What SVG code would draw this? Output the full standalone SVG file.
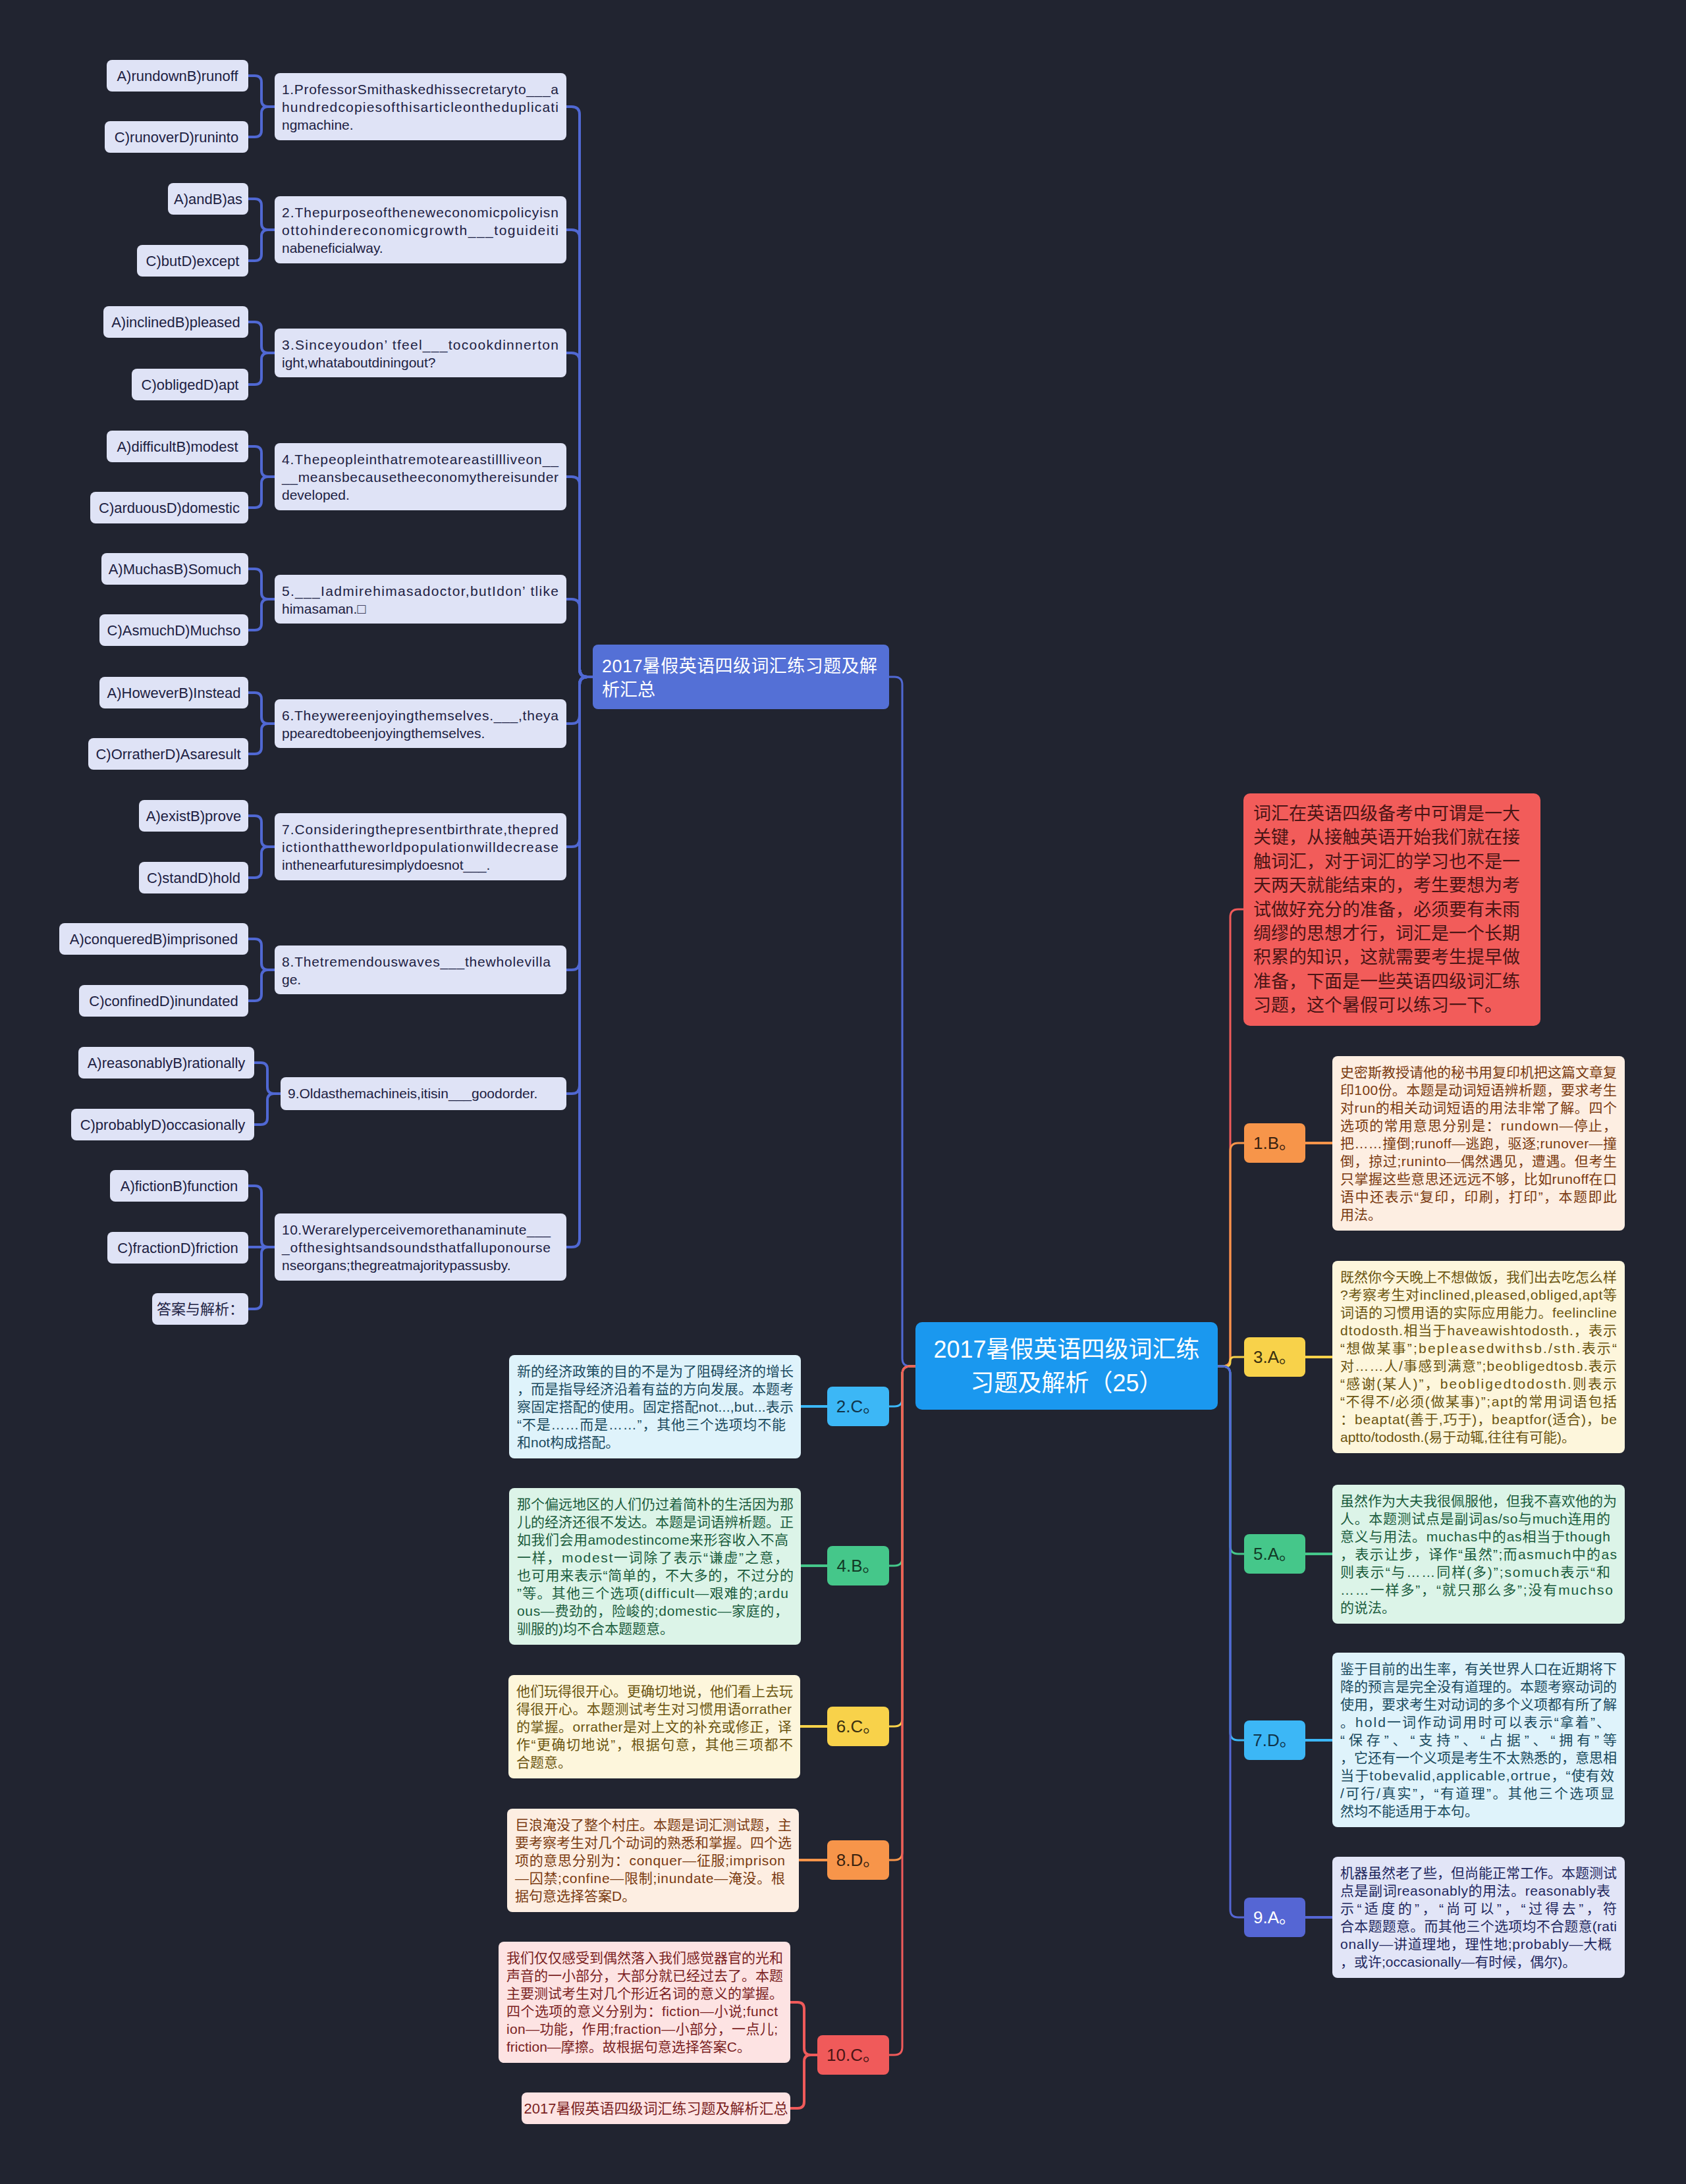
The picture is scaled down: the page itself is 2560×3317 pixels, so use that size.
<svg xmlns="http://www.w3.org/2000/svg" width="2560" height="3317" viewBox="0 0 2560 3317">
<style>
text{font-family:"Liberation Sans","Noto Sans CJK SC",sans-serif}
.ob{fill:#dfe3f6}
.ot{fill:#1d2142;font-size:22px;text-anchor:middle}
.qt{fill:#1d2142;font-size:21px}
.dt{font-size:21px}
.lb{font-size:26px;text-anchor:middle}
.lk{fill:none;stroke-width:4;stroke-linecap:round}
.cl{fill:none;stroke-width:3;stroke-linecap:round}
.bl{stroke:#5068d3}
.rd{stroke:#f05a5a}
.or{stroke:#f7954a}
.ye{stroke:#f8d24a}
.gr{stroke:#45c78a}
.lb2{stroke:#3cb7f6}
.in{stroke:#5566d4}
</style>
<rect x="0" y="0" width="2560" height="3317" fill="#212430"/>

<g id="connectors">
  <!-- center to left branches -->
  <path class="cl bl" d="M1390 2075 H1382 Q1370 2075 1370 2063 V1040 Q1370 1028 1358 1028 H1350"/>
  <path class="cl lb2" d="M1390 2075 H1382 Q1370 2075 1370 2087 V2124 Q1370 2136 1358 2136 H1350"/>
  <path class="cl gr" d="M1390 2075 H1382 Q1370 2075 1370 2087 V2366 Q1370 2378 1358 2378 H1350"/>
  <path class="cl ye" d="M1390 2075 H1382 Q1370 2075 1370 2087 V2610 Q1370 2622 1358 2622 H1350"/>
  <path class="cl or" d="M1390 2075 H1382 Q1370 2075 1370 2087 V2813 Q1370 2825 1358 2825 H1350"/>
  <path class="cl rd" d="M1390 2075 H1382 Q1370 2075 1370 2087 V3109 Q1370 3121 1358 3121 H1350"/>
  <!-- center to right branches -->
  <path class="cl rd" d="M1849 2075 H1856 Q1868 2075 1868 2063 V1393 Q1868 1381 1880 1381 H1889"/>
  <path class="cl or" d="M1849 2075 H1856 Q1868 2075 1868 2063 V1748 Q1868 1736 1880 1736 H1889"/>
  <path class="cl ye" d="M1849 2075 H1862 Q1868 2075 1868 2069 V2067 Q1868 2061 1874 2061 H1889"/>
  <path class="cl gr" d="M1849 2075 H1856 Q1868 2075 1868 2087 V2348 Q1868 2360 1880 2360 H1889"/>
  <path class="cl lb2" d="M1849 2075 H1856 Q1868 2075 1868 2087 V2631 Q1868 2643 1880 2643 H1889"/>
  <path class="cl in" d="M1849 2075 H1856 Q1868 2075 1868 2087 V2900 Q1868 2912 1880 2912 H1889"/>
  <!-- level 2 to descriptions -->
  <path class="lk or" d="M1982 1736 H2023"/>
  <path class="lk ye" d="M1982 2061 H2023"/>
  <path class="lk gr" d="M1982 2360 H2023"/>
  <path class="lk lb2" d="M1982 2643 H2023"/>
  <path class="lk in" d="M1982 2912 H2023"/>
  <path class="lk lb2" d="M1256 2136 H1216"/>
  <path class="lk gr" d="M1256 2378 H1216"/>
  <path class="lk ye" d="M1256 2622 H1215"/>
  <path class="lk or" d="M1256 2825 H1213"/>
  <path class="lk rd" d="M1241 3121 H1231 Q1221 3121 1221 3111 V3051 Q1221 3041 1211 3041 H1200"/>
  <path class="lk rd" d="M1241 3121 H1231 Q1221 3121 1221 3131 V3192 Q1221 3202 1211 3202 H1200"/>
  <!-- summary node to questions -->
  <path class="lk bl" d="M900 1028 H892 Q880 1028 880 1016 V174 Q880 162 868 162 H860"/>
  <path class="lk bl" d="M900 1028 H892 Q880 1028 880 1016 V361 Q880 349 868 349 H860"/>
  <path class="lk bl" d="M900 1028 H892 Q880 1028 880 1016 V548 Q880 536 868 536 H860"/>
  <path class="lk bl" d="M900 1028 H892 Q880 1028 880 1016 V736 Q880 724 868 724 H860"/>
  <path class="lk bl" d="M900 1028 H892 Q880 1028 880 1016 V922 Q880 910 868 910 H860"/>
  <path class="lk bl" d="M900 1028 H892 Q880 1028 880 1040 V1087 Q880 1099 868 1099 H860"/>
  <path class="lk bl" d="M900 1028 H892 Q880 1028 880 1040 V1274 Q880 1286 868 1286 H860"/>
  <path class="lk bl" d="M900 1028 H892 Q880 1028 880 1040 V1461 Q880 1473 868 1473 H860"/>
  <path class="lk bl" d="M900 1028 H892 Q880 1028 880 1040 V1649 Q880 1661 868 1661 H860"/>
  <path class="lk bl" d="M900 1028 H892 Q880 1028 880 1040 V1882 Q880 1894 868 1894 H860"/>
  <!-- questions to options -->
  <path class="lk bl" d="M417 162 H407 Q397 162 397 152 V125 Q397 115 387 115 H377"/>
  <path class="lk bl" d="M417 162 H407 Q397 162 397 172 V198 Q397 208 387 208 H377"/>
  <path class="lk bl" d="M417 349 H407 Q397 349 397 339 V312 Q397 302 387 302 H377"/>
  <path class="lk bl" d="M417 349 H407 Q397 349 397 359 V386 Q397 396 387 396 H377"/>
  <path class="lk bl" d="M417 536 H407 Q397 536 397 526 V499 Q397 489 387 489 H377"/>
  <path class="lk bl" d="M417 536 H407 Q397 536 397 546 V574 Q397 584 387 584 H377"/>
  <path class="lk bl" d="M417 724 H407 Q397 724 397 714 V688 Q397 678 387 678 H377"/>
  <path class="lk bl" d="M417 724 H407 Q397 724 397 734 V761 Q397 771 387 771 H377"/>
  <path class="lk bl" d="M417 910 H407 Q397 910 397 900 V874 Q397 864 387 864 H377"/>
  <path class="lk bl" d="M417 910 H407 Q397 910 397 920 V947 Q397 957 387 957 H377"/>
  <path class="lk bl" d="M417 1099 H407 Q397 1099 397 1089 V1062 Q397 1052 387 1052 H377"/>
  <path class="lk bl" d="M417 1099 H407 Q397 1099 397 1109 V1135 Q397 1145 387 1145 H377"/>
  <path class="lk bl" d="M417 1286 H407 Q397 1286 397 1276 V1249 Q397 1239 387 1239 H377"/>
  <path class="lk bl" d="M417 1286 H407 Q397 1286 397 1296 V1323 Q397 1333 387 1333 H377"/>
  <path class="lk bl" d="M417 1473 H407 Q397 1473 397 1463 V1436 Q397 1426 387 1426 H377"/>
  <path class="lk bl" d="M417 1473 H407 Q397 1473 397 1483 V1510 Q397 1520 387 1520 H377"/>
  <path class="lk bl" d="M426 1661 H416 Q406 1661 406 1651 V1624 Q406 1614 396 1614 H386"/>
  <path class="lk bl" d="M426 1661 H416 Q406 1661 406 1671 V1698 Q406 1708 396 1708 H386"/>
  <path class="lk bl" d="M417 1894 H407 Q397 1894 397 1884 V1811 Q397 1801 387 1801 H377"/>
  <path class="lk bl" d="M417 1894 H377"/>
  <path class="lk bl" d="M417 1894 H407 Q397 1894 397 1904 V1978 Q397 1988 387 1988 H377"/>
</g>

<g id="root">
  <rect x="1390" y="2008" width="459" height="133" rx="10" fill="#1a98ef"/>
  <text x="1619.5" y="2062" font-size="36" fill="#ffffff" text-anchor="middle">2017暑假英语四级词汇练</text>
  <text x="1619.5" y="2113" font-size="36" fill="#ffffff" text-anchor="middle">习题及解析（25）</text>
</g>

<g id="summary">
  <rect x="900" y="979" width="450" height="98" rx="8" fill="#5470d6"/>
  <text x="914" y="1021" font-size="27" fill="#ffffff" textLength="418" lengthAdjust="spacing">2017暑假英语四级词汇练习题及解</text>
  <text x="914" y="1057" font-size="27" fill="#ffffff">析汇总</text>
</g>

<g id="q1">
  <rect class="ob" x="417" y="111" width="443" height="102" rx="8"/>
  <text class="qt" x="428" y="143" textLength="420" lengthAdjust="spacing">1.ProfessorSmithaskedhissecretaryto___a</text>
  <text class="qt" x="428" y="170" textLength="420" lengthAdjust="spacing">hundredcopiesofthisarticleontheduplicati</text>
  <text class="qt" x="428" y="197">ngmachine.</text>
</g>
<g id="q1a"><rect class="ob" x="162" y="91" width="215" height="48" rx="8"/><text class="ot" x="269.5" y="123">A)rundownB)runoff</text></g>
<g id="q1c"><rect class="ob" x="159" y="184" width="218" height="48" rx="8"/><text class="ot" x="268" y="216">C)runoverD)runinto</text></g>

<g id="q2">
  <rect class="ob" x="417" y="298" width="443" height="102" rx="8"/>
  <text class="qt" x="428" y="330" textLength="420" lengthAdjust="spacing">2.Thepurposeoftheneweconomicpolicyisn</text>
  <text class="qt" x="428" y="357" textLength="420" lengthAdjust="spacing">ottohindereconomicgrowth___toguideiti</text>
  <text class="qt" x="428" y="384">nabeneficialway.</text>
</g>
<g id="q2a"><rect class="ob" x="255" y="278" width="122" height="48" rx="8"/><text class="ot" x="316" y="310">A)andB)as</text></g>
<g id="q2c"><rect class="ob" x="208" y="372" width="169" height="48" rx="8"/><text class="ot" x="292.5" y="404">C)butD)except</text></g>

<g id="q3">
  <rect class="ob" x="417" y="499" width="443" height="74" rx="8"/>
  <text class="qt" x="428" y="531" textLength="420" lengthAdjust="spacing">3.Sinceyoudon’ tfeel___tocookdinnerton</text>
  <text class="qt" x="428" y="558">ight,whataboutdiningout?</text>
</g>
<g id="q3a"><rect class="ob" x="157" y="465" width="220" height="48" rx="8"/><text class="ot" x="267" y="497">A)inclinedB)pleased</text></g>
<g id="q3c"><rect class="ob" x="200" y="560" width="177" height="48" rx="8"/><text class="ot" x="288.5" y="592">C)obligedD)apt</text></g>

<g id="q4">
  <rect class="ob" x="417" y="673" width="443" height="102" rx="8"/>
  <text class="qt" x="428" y="705" textLength="420" lengthAdjust="spacing">4.Thepeopleinthatremoteareastillliveon__</text>
  <text class="qt" x="428" y="732" textLength="420" lengthAdjust="spacing">__meansbecausetheeconomythereisunder</text>
  <text class="qt" x="428" y="759">developed.</text>
</g>
<g id="q4a"><rect class="ob" x="162" y="654" width="215" height="48" rx="8"/><text class="ot" x="269.5" y="686">A)difficultB)modest</text></g>
<g id="q4c"><rect class="ob" x="137" y="747" width="240" height="48" rx="8"/><text class="ot" x="257" y="779">C)arduousD)domestic</text></g>

<g id="q5">
  <rect class="ob" x="417" y="873" width="443" height="74" rx="8"/>
  <text class="qt" x="428" y="905" textLength="420" lengthAdjust="spacing">5.___Iadmirehimasadoctor,butIdon’ tlike</text>
  <text class="qt" x="428" y="932">himasaman.□</text>
</g>
<g id="q5a"><rect class="ob" x="154" y="840" width="223" height="48" rx="8"/><text class="ot" x="265.5" y="872">A)MuchasB)Somuch</text></g>
<g id="q5c"><rect class="ob" x="151" y="933" width="226" height="48" rx="8"/><text class="ot" x="264" y="965">C)AsmuchD)Muchso</text></g>

<g id="q6">
  <rect class="ob" x="417" y="1062" width="443" height="74" rx="8"/>
  <text class="qt" x="428" y="1094" textLength="420" lengthAdjust="spacing">6.Theywereenjoyingthemselves.___,theya</text>
  <text class="qt" x="428" y="1121">ppearedtobeenjoyingthemselves.</text>
</g>
<g id="q6a"><rect class="ob" x="151" y="1028" width="226" height="48" rx="8"/><text class="ot" x="264" y="1060">A)HoweverB)Instead</text></g>
<g id="q6c"><rect class="ob" x="134" y="1121" width="243" height="48" rx="8"/><text class="ot" x="255.5" y="1153">C)OrratherD)Asaresult</text></g>

<g id="q7">
  <rect class="ob" x="417" y="1235" width="443" height="102" rx="8"/>
  <text class="qt" x="428" y="1267" textLength="420" lengthAdjust="spacing">7.Consideringthepresentbirthrate,thepred</text>
  <text class="qt" x="428" y="1294" textLength="420" lengthAdjust="spacing">ictionthattheworldpopulationwilldecrease</text>
  <text class="qt" x="428" y="1321">inthenearfuturesimplydoesnot___.</text>
</g>
<g id="q7a"><rect class="ob" x="211" y="1215" width="166" height="48" rx="8"/><text class="ot" x="294" y="1247">A)existB)prove</text></g>
<g id="q7c"><rect class="ob" x="211" y="1309" width="166" height="48" rx="8"/><text class="ot" x="294" y="1341">C)standD)hold</text></g>

<g id="q8">
  <rect class="ob" x="417" y="1436" width="443" height="74" rx="8"/>
  <text class="qt" x="428" y="1468" textLength="408" lengthAdjust="spacing">8.Thetremendouswaves___thewholevilla</text>
  <text class="qt" x="428" y="1495">ge.</text>
</g>
<g id="q8a"><rect class="ob" x="90" y="1402" width="287" height="48" rx="8"/><text class="ot" x="233.5" y="1434">A)conqueredB)imprisoned</text></g>
<g id="q8c"><rect class="ob" x="120" y="1496" width="257" height="48" rx="8"/><text class="ot" x="248.5" y="1528">C)confinedD)inundated</text></g>

<g id="q9">
  <rect class="ob" x="426" y="1636" width="434" height="50" rx="8"/>
  <text class="qt" x="437" y="1668">9.Oldasthemachineis,itisin___goodorder.</text>
</g>
<g id="q9a"><rect class="ob" x="119" y="1590" width="267" height="48" rx="8"/><text class="ot" x="252.5" y="1622">A)reasonablyB)rationally</text></g>
<g id="q9c"><rect class="ob" x="108" y="1684" width="278" height="48" rx="8"/><text class="ot" x="247" y="1716">C)probablyD)occasionally</text></g>

<g id="q10">
  <rect class="ob" x="417" y="1843" width="443" height="102" rx="8"/>
  <text class="qt" x="428" y="1875" textLength="408" lengthAdjust="spacing">10.Werarelyperceivemorethanaminute___</text>
  <text class="qt" x="428" y="1902" textLength="408" lengthAdjust="spacing">_ofthesightsandsoundsthatfalluponourse</text>
  <text class="qt" x="428" y="1929">nseorgans;thegreatmajoritypassusby.</text>
</g>
<g id="q10a"><rect class="ob" x="167" y="1777" width="210" height="48" rx="8"/><text class="ot" x="272" y="1809">A)fictionB)function</text></g>
<g id="q10c"><rect class="ob" x="163" y="1871" width="214" height="48" rx="8"/><text class="ot" x="270" y="1903">C)fractionD)friction</text></g>
<g id="q10ans"><rect class="ob" x="231" y="1964" width="146" height="48" rx="8"/><text class="ot" x="304" y="1996">答案与解析：</text></g>

<g id="intro">
  <rect x="1888" y="1205" width="451" height="353" rx="10" fill="#f25c5a"/>
  <g font-size="27" fill="#4a1515">
    <text x="1903" y="1245" textLength="405" lengthAdjust="spacing">词汇在英语四级备考中可谓是一大</text>
    <text x="1903" y="1281" textLength="405" lengthAdjust="spacing">关键，从接触英语开始我们就在接</text>
    <text x="1903" y="1318" textLength="405" lengthAdjust="spacing">触词汇，对于词汇的学习也不是一</text>
    <text x="1903" y="1354" textLength="405" lengthAdjust="spacing">天两天就能结束的，考生要想为考</text>
    <text x="1903" y="1391" textLength="405" lengthAdjust="spacing">试做好充分的准备，必须要有未雨</text>
    <text x="1903" y="1427" textLength="405" lengthAdjust="spacing">绸缪的思想才行，词汇是一个长期</text>
    <text x="1903" y="1463" textLength="405" lengthAdjust="spacing">积累的知识，这就需要考生提早做</text>
    <text x="1903" y="1500" textLength="405" lengthAdjust="spacing">准备，下面是一些英语四级词汇练</text>
    <text x="1903" y="1536">习题，这个暑假可以练习一下。</text>
  </g>
</g>

<g id="n1b">
  <rect x="1889" y="1706" width="93" height="60" rx="8" fill="#f7954a"/>
  <text class="lb" x="1935.5" y="1745" fill="#3a2210">1.B。</text>
</g>
<g id="d1b">
  <rect x="2023" y="1604" width="444" height="265" rx="8" fill="#fdeee2"/>
  <g class="dt" fill="#7a3a10">
    <text x="2035" y="1636" textLength="420" lengthAdjust="spacing">史密斯教授请他的秘书用复印机把这篇文章复</text>
    <text x="2035" y="1663" textLength="420" lengthAdjust="spacing">印100份。本题是动词短语辨析题，要求考生</text>
    <text x="2035" y="1690" textLength="420" lengthAdjust="spacing">对run的相关动词短语的用法非常了解。四个</text>
    <text x="2035" y="1717" textLength="420" lengthAdjust="spacing">选项的常用意思分别是：rundown—停止，</text>
    <text x="2035" y="1744" textLength="420" lengthAdjust="spacing">把……撞倒;runoff—逃跑，驱逐;runover—撞</text>
    <text x="2035" y="1771" textLength="420" lengthAdjust="spacing">倒，掠过;runinto—偶然遇见，遭遇。但考生</text>
    <text x="2035" y="1798" textLength="420" lengthAdjust="spacing">只掌握这些意思还远远不够，比如runoff在口</text>
    <text x="2035" y="1825" textLength="420" lengthAdjust="spacing">语中还表示“复印，印刷，打印”，本题即此</text>
    <text x="2035" y="1852">用法。</text>
  </g>
</g>

<g id="n3a">
  <rect x="1889" y="2031" width="93" height="60" rx="8" fill="#f8d24a"/>
  <text class="lb" x="1935.5" y="2070" fill="#3a3010">3.A。</text>
</g>
<g id="d3a">
  <rect x="2023" y="1915" width="444" height="292" rx="8" fill="#fdf6dc"/>
  <g class="dt" fill="#6b5510">
    <text x="2035" y="1947" textLength="420" lengthAdjust="spacing">既然你今天晚上不想做饭，我们出去吃怎么样</text>
    <text x="2035" y="1974" textLength="420" lengthAdjust="spacing">?考察考生对inclined,pleased,obliged,apt等</text>
    <text x="2035" y="2001" textLength="420" lengthAdjust="spacing">词语的习惯用语的实际应用能力。feelincline</text>
    <text x="2035" y="2028" textLength="420" lengthAdjust="spacing">dtodosth.相当于haveawishtodosth.，表示</text>
    <text x="2035" y="2055" textLength="420" lengthAdjust="spacing">“想做某事”;bepleasedwithsb./sth.表示“</text>
    <text x="2035" y="2082" textLength="420" lengthAdjust="spacing">对……人/事感到满意”;beobligedtosb.表示</text>
    <text x="2035" y="2109" textLength="420" lengthAdjust="spacing">“感谢(某人)”，beobligedtodosth.则表示</text>
    <text x="2035" y="2136" textLength="420" lengthAdjust="spacing">“不得不/必须(做某事)”;apt的常用词语包括</text>
    <text x="2035" y="2163" textLength="420" lengthAdjust="spacing">：beaptat(善于,巧于)，beaptfor(适合)，be</text>
    <text x="2035" y="2190">aptto/todosth.(易于动辄,往往有可能)。</text>
  </g>
</g>

<g id="n5a">
  <rect x="1889" y="2330" width="93" height="60" rx="8" fill="#45c78a"/>
  <text class="lb" x="1935.5" y="2369" fill="#123a26">5.A。</text>
</g>
<g id="d5a">
  <rect x="2023" y="2255" width="444" height="211" rx="8" fill="#dcf4e8"/>
  <g class="dt" fill="#1b5c3d">
    <text x="2035" y="2287" textLength="420" lengthAdjust="spacing">虽然作为大夫我很佩服他，但我不喜欢他的为</text>
    <text x="2035" y="2314" textLength="410" lengthAdjust="spacing">人。本题测试点是副词as/so与much连用的</text>
    <text x="2035" y="2341" textLength="410" lengthAdjust="spacing">意义与用法。muchas中的as相当于though</text>
    <text x="2035" y="2368" textLength="420" lengthAdjust="spacing">，表示让步，译作“虽然”;而asmuch中的as</text>
    <text x="2035" y="2395" textLength="410" lengthAdjust="spacing">则表示“与……同样(多)”;somuch表示“和</text>
    <text x="2035" y="2422" textLength="414" lengthAdjust="spacing">……一样多”，“就只那么多”;没有muchso</text>
    <text x="2035" y="2449">的说法。</text>
  </g>
</g>

<g id="n7d">
  <rect x="1889" y="2613" width="93" height="60" rx="8" fill="#3cb7f6"/>
  <text class="lb" x="1935.5" y="2652" fill="#10344a">7.D。</text>
</g>
<g id="d7d">
  <rect x="2023" y="2510" width="444" height="265" rx="8" fill="#dff3fb"/>
  <g class="dt" fill="#1a4a5e">
    <text x="2035" y="2542" textLength="420" lengthAdjust="spacing">鉴于目前的出生率，有关世界人口在近期将下</text>
    <text x="2035" y="2569" textLength="420" lengthAdjust="spacing">降的预言是完全没有道理的。本题考察动词的</text>
    <text x="2035" y="2596" textLength="420" lengthAdjust="spacing">使用，要求考生对动词的多个义项都有所了解</text>
    <text x="2035" y="2623" textLength="410" lengthAdjust="spacing">。hold一词作动词用时可以表示“拿着”、</text>
    <text x="2035" y="2650" textLength="420" lengthAdjust="spacing">“保存”、“支持”、“占据”、“拥有”等</text>
    <text x="2035" y="2677" textLength="420" lengthAdjust="spacing">，它还有一个义项是考生不太熟悉的，意思相</text>
    <text x="2035" y="2704" textLength="416" lengthAdjust="spacing">当于tobevalid,applicable,ortrue，“使有效</text>
    <text x="2035" y="2731" textLength="416" lengthAdjust="spacing">/可行/真实”，“有道理”。其他三个选项显</text>
    <text x="2035" y="2758">然均不能适用于本句。</text>
  </g>
</g>

<g id="n9a">
  <rect x="1889" y="2882" width="93" height="60" rx="8" fill="#5566d4"/>
  <text class="lb" x="1935.5" y="2921" fill="#ffffff">9.A。</text>
</g>
<g id="d9a">
  <rect x="2023" y="2820" width="444" height="184" rx="8" fill="#e2e5f7"/>
  <g class="dt" fill="#22285e">
    <text x="2035" y="2852" textLength="420" lengthAdjust="spacing">机器虽然老了些，但尚能正常工作。本题测试</text>
    <text x="2035" y="2879" textLength="410" lengthAdjust="spacing">点是副词reasonably的用法。reasonably表</text>
    <text x="2035" y="2906" textLength="420" lengthAdjust="spacing">示“适度的”，“尚可以”，“过得去”，符</text>
    <text x="2035" y="2933" textLength="420" lengthAdjust="spacing">合本题题意。而其他三个选项均不合题意(rati</text>
    <text x="2035" y="2960" textLength="412" lengthAdjust="spacing">onally—讲道理地，理性地;probably—大概</text>
    <text x="2035" y="2987">，或许;occasionally—有时候，偶尔)。</text>
  </g>
</g>

<g id="n2c">
  <rect x="1256" y="2106" width="94" height="60" rx="8" fill="#3cb7f6"/>
  <text class="lb" x="1303" y="2145" fill="#10344a">2.C。</text>
</g>
<g id="d2c">
  <rect x="773" y="2058" width="443" height="157" rx="8" fill="#dff3fb"/>
  <g class="dt" fill="#1a4a5e">
    <text x="785" y="2090" textLength="420" lengthAdjust="spacing">新的经济政策的目的不是为了阻碍经济的增长</text>
    <text x="785" y="2117" textLength="420" lengthAdjust="spacing">，而是指导经济沿着有益的方向发展。本题考</text>
    <text x="785" y="2144" textLength="420" lengthAdjust="spacing">察固定搭配的使用。固定搭配not...,but...表示</text>
    <text x="785" y="2171" textLength="408" lengthAdjust="spacing">“不是……而是……”，其他三个选项均不能</text>
    <text x="785" y="2198">和not构成搭配。</text>
  </g>
</g>

<g id="n4b">
  <rect x="1256" y="2348" width="94" height="60" rx="8" fill="#45c78a"/>
  <text class="lb" x="1303" y="2387" fill="#123a26">4.B。</text>
</g>
<g id="d4b">
  <rect x="773" y="2260" width="443" height="238" rx="8" fill="#dcf4e8"/>
  <g class="dt" fill="#1b5c3d">
    <text x="785" y="2292" textLength="420" lengthAdjust="spacing">那个偏远地区的人们仍过着简朴的生活因为那</text>
    <text x="785" y="2319" textLength="420" lengthAdjust="spacing">儿的经济还很不发达。本题是词语辨析题。正</text>
    <text x="785" y="2346" textLength="412" lengthAdjust="spacing">如我们会用amodestincome来形容收入不高</text>
    <text x="785" y="2373" textLength="412" lengthAdjust="spacing">一样，modest一词除了表示“谦虚”之意，</text>
    <text x="785" y="2400" textLength="420" lengthAdjust="spacing">也可用来表示“简单的，不大多的，不过分的</text>
    <text x="785" y="2427" textLength="412" lengthAdjust="spacing">”等。其他三个选项(difficult—艰难的;ardu</text>
    <text x="785" y="2454" textLength="412" lengthAdjust="spacing">ous—费劲的，险峻的;domestic—家庭的，</text>
    <text x="785" y="2481">驯服的)均不合本题题意。</text>
  </g>
</g>

<g id="n6c">
  <rect x="1256" y="2592" width="94" height="60" rx="8" fill="#f8d24a"/>
  <text class="lb" x="1303" y="2631" fill="#3a3010">6.C。</text>
</g>
<g id="d6c">
  <rect x="772" y="2544" width="443" height="157" rx="8" fill="#fdf6dc"/>
  <g class="dt" fill="#6b5510">
    <text x="784" y="2576" textLength="420" lengthAdjust="spacing">他们玩得很开心。更确切地说，他们看上去玩</text>
    <text x="784" y="2603" textLength="418" lengthAdjust="spacing">得很开心。本题测试考生对习惯用语orrather</text>
    <text x="784" y="2630" textLength="418" lengthAdjust="spacing">的掌握。orrather是对上文的补充或修正，译</text>
    <text x="784" y="2657" textLength="420" lengthAdjust="spacing">作“更确切地说”，根据句意，其他三项都不</text>
    <text x="784" y="2684">合题意。</text>
  </g>
</g>

<g id="n8d">
  <rect x="1256" y="2795" width="94" height="60" rx="8" fill="#f7954a"/>
  <text class="lb" x="1303" y="2834" fill="#3a2210">8.D。</text>
</g>
<g id="d8d">
  <rect x="770" y="2747" width="443" height="157" rx="8" fill="#fdeee2"/>
  <g class="dt" fill="#7a3a10">
    <text x="782" y="2779" textLength="420" lengthAdjust="spacing">巨浪淹没了整个村庄。本题是词汇测试题，主</text>
    <text x="782" y="2806" textLength="420" lengthAdjust="spacing">要考察考生对几个动词的熟悉和掌握。四个选</text>
    <text x="782" y="2833" textLength="410" lengthAdjust="spacing">项的意思分别为：conquer—征服;imprison</text>
    <text x="782" y="2860" textLength="410" lengthAdjust="spacing">—囚禁;confine—限制;inundate—淹没。根</text>
    <text x="782" y="2887">据句意选择答案D。</text>
  </g>
</g>

<g id="n10c">
  <rect x="1241" y="3091" width="109" height="60" rx="8" fill="#f05a5a"/>
  <text class="lb" x="1295.5" y="3130" fill="#4a1515">10.C。</text>
</g>
<g id="d10c">
  <rect x="757" y="2949" width="443" height="184" rx="8" fill="#fde3e3"/>
  <g class="dt" fill="#7a1f1f">
    <text x="769" y="2981" textLength="420" lengthAdjust="spacing">我们仅仅感受到偶然落入我们感觉器官的光和</text>
    <text x="769" y="3008" textLength="420" lengthAdjust="spacing">声音的一小部分，大部分就已经过去了。本题</text>
    <text x="769" y="3035" textLength="420" lengthAdjust="spacing">主要测试考生对几个形近名词的意义的掌握。</text>
    <text x="769" y="3062" textLength="412" lengthAdjust="spacing">四个选项的意义分别为：fiction—小说;funct</text>
    <text x="769" y="3089" textLength="412" lengthAdjust="spacing">ion—功能，作用;fraction—小部分，一点儿;</text>
    <text x="769" y="3116">friction—摩擦。故根据句意选择答案C。</text>
  </g>
</g>
<g id="n10sum">
  <rect x="792" y="3178" width="408" height="48" rx="8" fill="#fde3e3"/>
  <text x="996" y="3210" font-size="22" fill="#7a1f1f" text-anchor="middle">2017暑假英语四级词汇练习题及解析汇总</text>
</g>
</svg>
